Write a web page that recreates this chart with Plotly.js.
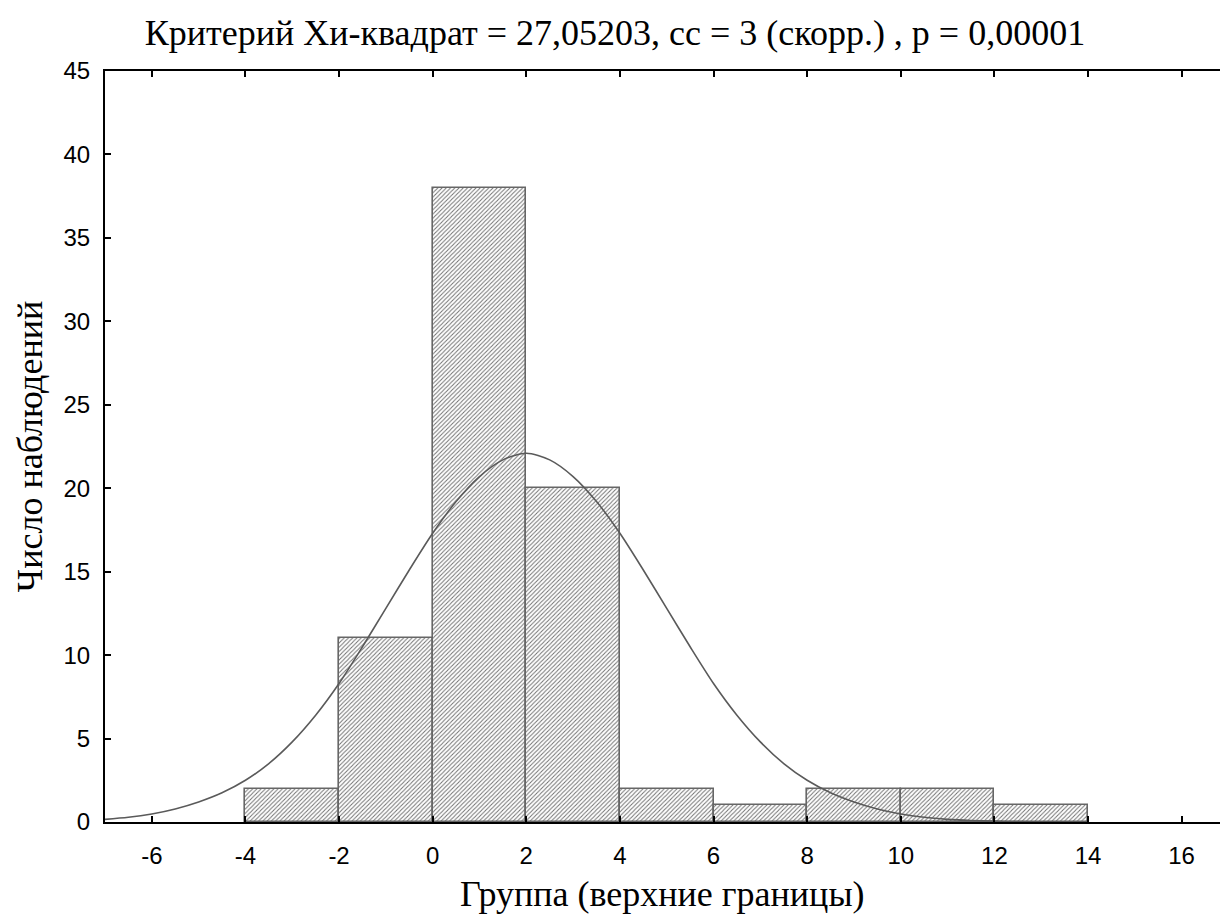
<!DOCTYPE html>
<html>
<head>
<meta charset="utf-8">
<script src="https://cdn.plot.ly/plotly-3.0.1.min.js"></script>
<style>html,body{margin:0;padding:0;background:#fff;}</style>
</head>
<body>
<div id="chart"></div>
<script>
// Histogram: upper bounds of groups and observed counts
var upperBounds = [-2, 0, 2, 4, 6, 8, 10, 12, 14];
var counts = [2, 11, 38, 20, 2, 1, 2, 2, 1];
var binWidth = 2;

// Expected (normal) curve
var curveX = [-7, -6.5, -6, -5.5, -5, -4.5, -4, -3.5, -3, -2.5, -2, -1.5, -1, -0.5, 0, 0.5, 1, 1.5, 2, 2.5, 3, 3.5, 4, 4.5, 5, 5.5, 6, 6.5, 7, 7.5, 8, 8.5, 9, 9.5, 10, 10.5, 11, 11.5, 12, 12.5, 13, 14];
var curveY = [0.16, 0.28, 0.48, 0.78, 1.2, 1.75, 2.5, 3.5, 4.8, 6.4, 8.3, 10.5, 12.8, 15.1, 17.3, 19.2, 20.7, 21.7, 22.1, 21.7, 20.7, 19.2, 17.3, 15.1, 12.8, 10.5, 8.3, 6.4, 4.8, 3.5, 2.5, 1.75, 1.2, 0.78, 0.48, 0.28, 0.16, 0.09, 0.05, 0.02, 0.01, 0.0];

var xTicks = [-6, -4, -2, 0, 2, 4, 6, 8, 10, 12, 14, 16];
var yTicks = [0, 5, 10, 15, 20, 25, 30, 35, 40, 45];

var titleText = "Критерий Хи-квадрат = 27,05203, сс = 3 (скорр.) , p = 0,00001";
var xTitleText = "Группа (верхние границы)";
var yTitleText = "Число наблюдений";

var traces = [
  {
    type: 'bar',
    x: upperBounds,
    y: counts,
    width: binWidth,
    offset: -binWidth,
    marker: {
      color: 'white',
      line: {color: '#666666', width: 1.6},
      pattern: {shape: '/', fgcolor: '#707070', bgcolor: 'white', size: 3, solidity: 0.33}
    },
    hoverinfo: 'x+y',
    showlegend: false
  },
  {
    type: 'scatter',
    mode: 'lines',
    x: curveX,
    y: curveY,
    line: {color: '#5a5a5a', width: 1.6, shape: 'spline', smoothing: 0.8},
    hoverinfo: 'skip',
    showlegend: false
  }
];

var layout = {
  width: 1220,
  height: 919,
  margin: {l: 105, r: 0, t: 71, b: 97},
  paper_bgcolor: 'white',
  plot_bgcolor: 'white',
  bargap: 0,
  font: {family: 'Liberation Serif', color: '#000'},
  title: {
    text: titleText,
    font: {family: 'Liberation Serif', size: 36, color: '#000'},
    xref: 'container', x: 615 / 1220, xanchor: 'center',
    yref: 'container', y: 1 - 32 / 919, yanchor: 'middle'
  },
  xaxis: {
    range: [-7, 16.82],
    tickvals: xTicks,
    ticktext: xTicks.map(String),
    ticks: 'inside',
    ticklen: 6,
    tickwidth: 1.5,
    tickcolor: '#000',
    showline: true,
    linecolor: '#000',
    linewidth: 2,
    mirror: 'ticks',
    showgrid: false,
    zeroline: false,
    ticklabelstandoff: 11,
    tickfont: {family: 'Liberation Sans', size: 24, color: '#000'},
    fixedrange: true
  },
  yaxis: {
    range: [0, 45],
    tickvals: yTicks,
    ticktext: yTicks.map(String),
    ticks: 'inside',
    ticklen: 6,
    tickwidth: 1.5,
    tickcolor: '#000',
    showline: true,
    linecolor: '#000',
    linewidth: 2,
    mirror: false,
    showgrid: false,
    zeroline: false,
    ticklabelstandoff: 8,
    tickfont: {family: 'Liberation Sans', size: 24, color: '#000'},
    title: {
      text: yTitleText,
      font: {family: 'Liberation Serif', size: 36, color: '#000'},
      standoff: 10
    },
    fixedrange: true
  },
  annotations: [
    {
      text: xTitleText,
      xref: 'paper', x: 0.5, xanchor: 'center',
      yref: 'paper', y: -(895 - 822.5) / 751.5, yanchor: 'middle',
      showarrow: false,
      font: {family: 'Liberation Serif', size: 36, color: '#000'}
    }
  ]
};

Plotly.newPlot('chart', traces, layout, {displayModeBar: false});
</script>
</body>
</html>
